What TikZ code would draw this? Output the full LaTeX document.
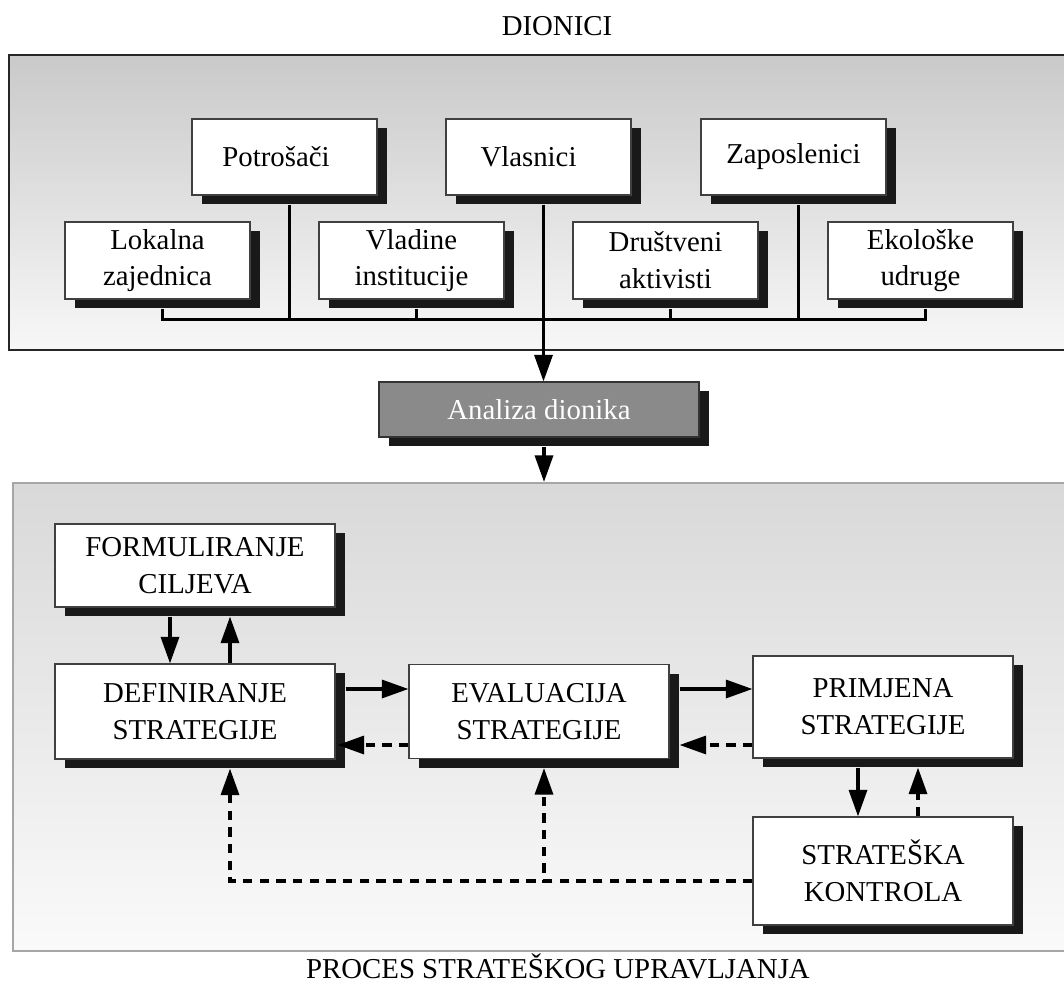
\documentclass[tikz,border=0pt]{standalone}
\usepackage{fontspec}
\setmainfont{Liberation Serif}
\usetikzlibrary{arrows.meta,shadows,calc}
\begin{document}
\begin{tikzpicture}[x=0.75pt,y=-0.75pt,
  font=\fontsize{21.6}{27.6}\selectfont,
  panel/.style={inner sep=0pt, line width=1.5pt},
  box/.style={draw=black!75, line width=0.8pt, fill=white, align=center, inner sep=0pt,
    drop shadow={shadow xshift=7.5pt, shadow yshift=-6.75pt, fill=black!90, opacity=1}},
  busline/.style={line width=2.25pt, line join=miter},
  arr/.style={line width=2.6pt, -{Triangle[length=20pt,width=13.5pt]}},
  darr/.style={arr, dash pattern=on 7pt off 5.5pt}]
\useasboundingbox (0,0) rectangle (1064,985);
% panels
\node[panel, draw=black!85, top color=black!21, bottom color=black!3,
  minimum width=792.75pt, minimum height=221.25pt] (tp) at (537.5,202.5) {};
\node[panel, draw=black!35, top color=black!15, bottom color=black!2,
  minimum width=789.75pt, minimum height=351pt] (bp) at (539.5,717) {};
% titles
\node[anchor=base] (t1) at (557,35) {DIONICI};
\node[anchor=base] (t2) at (558,978) {PROCES STRATEŠKOG UPRAVLJANJA};
% stakeholder boxes
\node[box, minimum width=138.75pt, minimum height=57pt] (pot) at (284.5,157) {\makebox[0pt]{\kern-12.75pt Potrošači}};
\node[box, minimum width=138.75pt, minimum height=57pt] (vls) at (538.5,157) {\makebox[0pt]{\kern-15pt Vlasnici}};
\node[box, minimum width=138.75pt, minimum height=57pt] (zap) at (793.5,157) {Zaposlenici};
\node[box, minimum width=138.75pt, minimum height=57.75pt] (lok) at (157.5,260.5) {Lokalna\\zajednica};
\node[box, minimum width=138.75pt, minimum height=57.75pt] (vla) at (411.5,260.5) {Vladine\\institucije};
\node[box, minimum width=138.75pt, minimum height=57.75pt] (dru) at (665.5,260.5) {Društveni\\aktivisti};
\node[box, minimum width=138.75pt, minimum height=57.75pt] (eko) at (920.5,260.5) {Ekološke\\udruge};
% analysis
\node[box, fill=black!46, draw=black!80, text=white, minimum width=240pt, minimum height=41.25pt] (ana) at (539,409.5) {Analiza dionika};
% process boxes
\node[box, minimum width=210pt, minimum height=62.25pt] (form) at (195,565.5) {FORMULIRANJE\\CILJEVA};
\node[box, minimum width=210pt, minimum height=71.25pt] (def) at (195,711.5) {DEFINIRANJE\\STRATEGIJE};
\node[box, minimum width=195pt, minimum height=70.5pt] (eval) at (539,711.5) {EVALUACIJA\\STRATEGIJE};
\node[box, minimum width=195pt, minimum height=76.5pt] (prim) at (883,707) {PRIMJENA\\STRATEGIJE};
\node[box, minimum width=195pt, minimum height=81pt] (strat) at (883,871) {STRATEŠKA\\KONTROLA};
% bus
\coordinate (busY) at (0,319);
\draw[busline] ([xshift=3.75pt,yshift=-6.75pt]lok.south) -- ([xshift=3.75pt]lok.south |- busY)
  -- ([xshift=3.75pt]eko.south |- busY) -- ([xshift=3.75pt,yshift=-6.75pt]eko.south);
\foreach \n in {pot,vla,dru,zap}
  \draw[busline] ([xshift=3.75pt,yshift=-6.75pt]\n.south) -- ([xshift=3.75pt]\n.south |- busY);
\draw[arr] ([xshift=3.75pt,yshift=-6.75pt]vls.south) -- ([xshift=3.75pt]vls.south |- ana.north);
\draw[arr] ([xshift=3.75pt,yshift=-6.75pt]ana.south) -- ([xshift=3.75pt]ana.south |- bp.north);
% process connectors
\draw[arr] ([xshift=-18.75pt,yshift=-6.75pt]form.south) -- ([xshift=-18.75pt]def.north);
\draw[arr] ([xshift=26.25pt]def.north) -- ([xshift=26.25pt,yshift=-6.75pt]form.south);
\draw[arr] ([xshift=7.5pt,yshift=16.875pt]def.east) -- ([yshift=16.875pt]def.east -| eval.west);
\draw[darr] ([yshift=-25.125pt]def.east -| eval.west) -- ([xshift=1.5pt,yshift=-25.125pt]def.east);
\draw[arr] ([xshift=7.5pt,yshift=16.875pt]eval.east) -- ([yshift=16.875pt]eval.east -| prim.west);
\draw[darr] ([yshift=-25.125pt]eval.east -| prim.west) -- ([xshift=7.5pt,yshift=-25.125pt]eval.east);
\draw[arr] ([xshift=-18.75pt,yshift=-6.75pt]prim.south) -- ([xshift=-18.75pt]strat.north);
\draw[darr] ([xshift=26.25pt]strat.north) -- ([xshift=26.25pt,yshift=-6.75pt]prim.south);
\draw[darr] ([yshift=-7.5pt]strat.west) -| ([xshift=3.75pt,yshift=-6.75pt]eval.south);
\draw[darr] ([yshift=-7.5pt]strat.west) -| ([xshift=26.25pt,yshift=-6.75pt]def.south);
\end{tikzpicture}
\end{document}
